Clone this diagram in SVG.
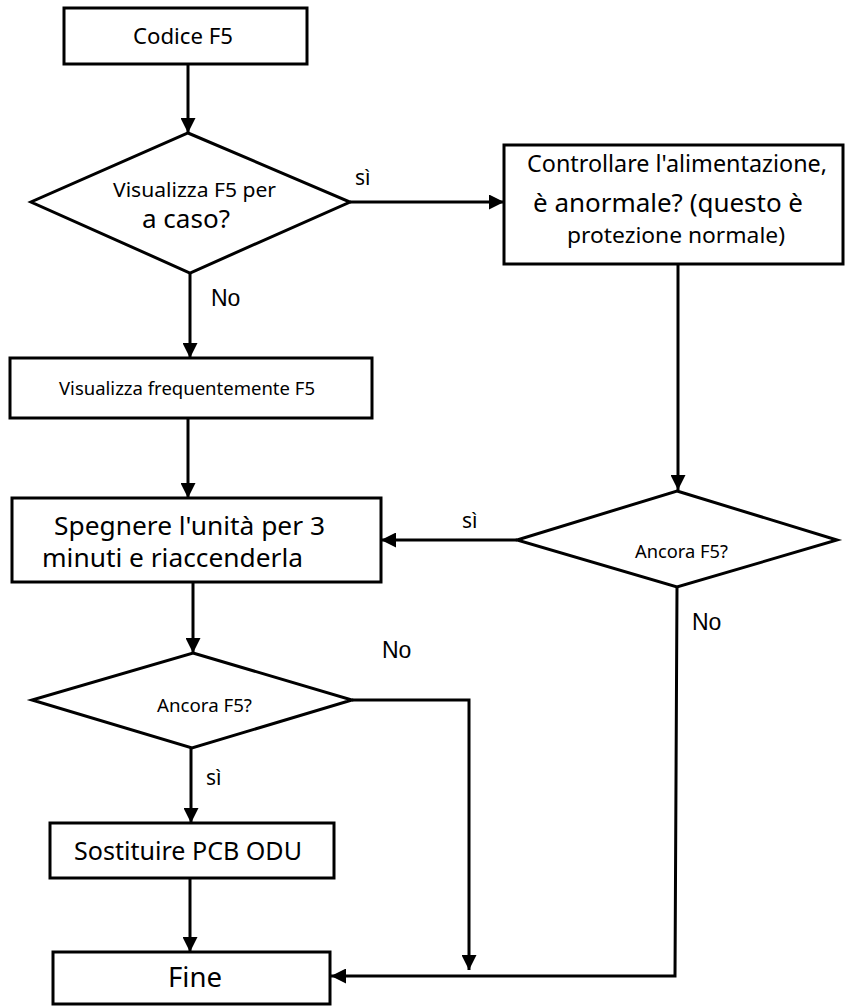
<svg xmlns="http://www.w3.org/2000/svg" width="845" height="1006" viewBox="0 0 845 1006">
  <style>
    .box { fill: #ffffff; stroke: #000000; stroke-width: 3; }
    .edge { fill: none; stroke: #000000; stroke-width: 3; marker-end: url(#arrow); }
    .t { font-family: "Noto Sans", "Open Sans", sans-serif; fill: #000000; text-anchor: middle; }
    .lbl { font-family: "Noto Sans", "Open Sans", sans-serif; fill: #000000; }
    .no { font-family: "Liberation Sans", Arial, sans-serif; fill: #000000; font-size: 23px; }
  </style>
  <defs>
    <marker id="arrow" markerUnits="userSpaceOnUse" markerWidth="15" markerHeight="15" refX="15" refY="7.5" orient="auto">
      <path d="M0,0 L15,7.5 L0,15 z" fill="#000000"/>
    </marker>
  </defs>

  <rect width="845" height="1006" fill="#ffffff"/>

  <!-- connectors and their branch labels -->
  <g id="connectors">
    <line class="edge" x1="188" y1="64" x2="188" y2="133"/>
    <line class="edge" x1="350" y1="202" x2="504" y2="202"/>
    <line class="edge" x1="190" y1="273" x2="190" y2="358"/>
    <line class="edge" x1="678" y1="264" x2="678" y2="490"/>
    <line class="edge" x1="517" y1="540" x2="381" y2="540"/>
    <line class="edge" x1="188" y1="418" x2="188" y2="498"/>
    <line class="edge" x1="193" y1="582" x2="193" y2="653"/>
    <polyline class="edge" points="352,700 469,700 469,970"/>
    <line class="edge" x1="191" y1="748" x2="191" y2="823"/>
    <line class="edge" x1="190" y1="878" x2="190" y2="952"/>
    <polyline class="edge" points="677,587 675,976 331,976"/>

    <text class="lbl" x="355" y="185" font-size="21">sì</text>
    <text class="no" x="211" y="306">No</text>
    <text class="lbl" x="462" y="528" font-size="21">sì</text>
    <text class="no" x="692" y="630">No</text>
    <text class="no" x="382" y="658">No</text>
    <text class="lbl" x="206" y="785" font-size="21">sì</text>
  </g>

  <g id="start">
    <rect class="box" x="64" y="8" width="243" height="56"/>
    <text class="t" x="183" y="44" font-size="22" textLength="100" lengthAdjust="spacingAndGlyphs">Codice F5</text>
  </g>

  <g id="decision-random">
    <polygon class="box" points="188,133 350,202 190,273 31,202"/>
    <text class="t" x="194.5" y="197" font-size="20" textLength="163" lengthAdjust="spacingAndGlyphs">Visualizza F5 per</text>
    <text class="t" x="186" y="228" font-size="26" textLength="88" lengthAdjust="spacingAndGlyphs">a caso?</text>
  </g>

  <g id="check-power">
    <rect class="box" x="504" y="145" width="339" height="119"/>
    <text class="t" x="677" y="172" font-size="23" textLength="300" lengthAdjust="spacingAndGlyphs">Controllare l'alimentazione,</text>
    <text class="t" x="668" y="212" font-size="26" textLength="270" lengthAdjust="spacingAndGlyphs">è anormale? (questo è</text>
    <text class="t" x="676" y="243" font-size="22" textLength="218" lengthAdjust="spacingAndGlyphs">protezione normale)</text>
  </g>

  <g id="frequent">
    <rect class="box" x="10" y="358" width="362" height="60"/>
    <text class="t" x="187" y="395" font-size="18.5" textLength="256" lengthAdjust="spacingAndGlyphs">Visualizza frequentemente F5</text>
  </g>

  <g id="decision-right">
    <polygon class="box" points="677,491 837,540 677,587 517,540"/>
    <text class="t" x="681.5" y="558" font-size="18" textLength="93" lengthAdjust="spacingAndGlyphs">Ancora F5?</text>
  </g>

  <g id="restart">
    <rect class="box" x="12" y="498" width="369" height="84"/>
    <text class="t" x="189.5" y="535" font-size="25" textLength="271" lengthAdjust="spacingAndGlyphs">Spegnere l'unità per 3</text>
    <text class="t" x="172.5" y="567" font-size="25" textLength="261" lengthAdjust="spacingAndGlyphs">minuti e riaccenderla</text>
  </g>

  <g id="decision-left">
    <polygon class="box" points="193,653 352,700 192,748 32,700"/>
    <text class="t" x="204.5" y="712" font-size="18" textLength="95" lengthAdjust="spacingAndGlyphs">Ancora F5?</text>
  </g>

  <g id="replace-pcb">
    <rect class="box" x="50" y="823" width="284" height="55"/>
    <text class="t" x="188" y="860" font-size="25" textLength="228" lengthAdjust="spacingAndGlyphs">Sostituire PCB ODU</text>
  </g>

  <g id="end">
    <rect class="box" x="53" y="952" width="277" height="52"/>
    <text class="t" x="195" y="987" font-size="27" textLength="54" lengthAdjust="spacingAndGlyphs">Fine</text>
  </g>
</svg>
